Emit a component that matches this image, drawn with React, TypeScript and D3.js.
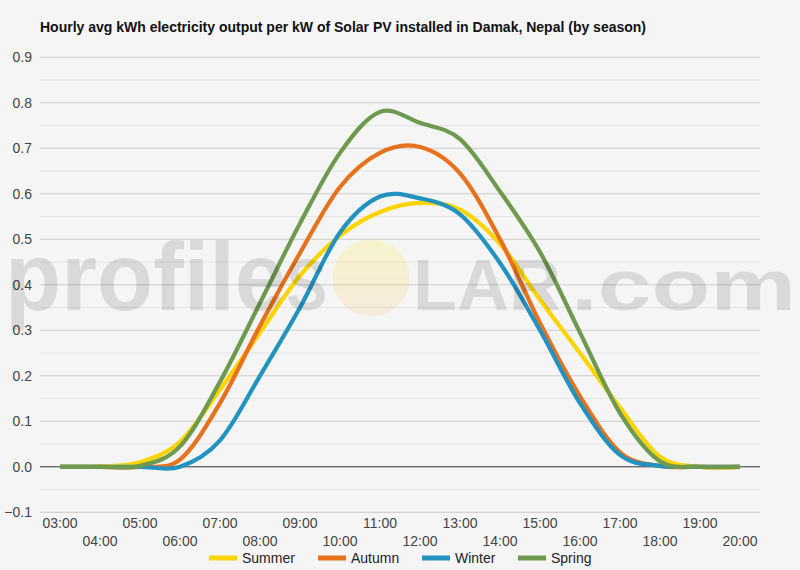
import React from "react";
import * as d3 from "d3";

const hours = ["03:00","04:00","05:00","06:00","07:00","08:00","09:00","10:00","11:00","12:00","13:00","14:00","15:00","16:00","17:00","18:00","19:00","20:00"];
const summer = [0, 0.001, 0.01, 0.055, 0.17, 0.295, 0.42, 0.508, 0.56, 0.58, 0.565, 0.49, 0.367, 0.25, 0.13, 0.022, 0.0, 0];
const autumn = [0, 0, 0, 0.016, 0.14, 0.31, 0.47, 0.615, 0.69, 0.703, 0.645, 0.5, 0.316, 0.155, 0.032, 0.002, 0, 0];
const winter = [0, 0, 0, 0, 0.058, 0.2, 0.35, 0.515, 0.594, 0.59, 0.555, 0.448, 0.3, 0.14, 0.026, 0.002, 0, 0];
const spring = [0, 0, 0.002, 0.045, 0.187, 0.36, 0.535, 0.69, 0.78, 0.756, 0.72, 0.605, 0.472, 0.295, 0.118, 0.012, 0, 0];
const seriesNames = ["Summer", "Autumn", "Winter", "Spring"];
const seriesColors = ["#FDD400", "#E8711D", "#2293C0", "#6E9A4F"];
const yTicks = [-0.1, 0, 0.1, 0.2, 0.3, 0.4, 0.5, 0.6, 0.7, 0.8, 0.9];
const title = "Hourly avg kWh electricity output per kW of Solar PV installed in Damak, Nepal (by season)";

const W = 800, H = 570;
const FONT = "Arial, 'Liberation Sans', sans-serif";

export default function App() {
  const x = d3.scaleBand<string>().domain(hours).range([40, 760]);
  const xc = (h: string) => (x(h) as number) + x.bandwidth() / 2;
  const y = d3.scaleLinear().domain([-0.1, 0.9]).range([512.3, 57.3]);
  const minor = d3.range(-0.05, 0.9, 0.1);
  const allSeries = [summer, autumn, winter, spring];
  const line = d3.line<number>()
    .x((_, i) => xc(hours[i]))
    .y((d) => y(d))
    .curve(d3.curveCatmullRom.alpha(0));
  const legendX = [209, 318, 422, 518];

  return (
    <svg width={W} height={H} style={{ position: "absolute", left: 0, top: 0 }} fontFamily={FONT}>
      <defs>
        <linearGradient id="sun" x1="0" y1="0" x2="0" y2="1">
          <stop offset="0%" stopColor="#fff200" stopOpacity={0.17} />
          <stop offset="100%" stopColor="#ff9a20" stopOpacity={0.12} />
        </linearGradient>
      </defs>
      <rect x={0} y={0} width={W} height={H} fill="#f5f5f5" />
      <text x={40} y={32} fontSize={14} fontWeight="bold" fill="#111">{title}</text>
      {minor.map((v) => (
        <line key={"m" + v} x1={40} x2={760} y1={y(v)} y2={y(v)} stroke="#e4e4e4" strokeWidth={1} />
      ))}
      {yTicks.map((v) => (
        <g key={"t" + v}>
          <line x1={40} x2={760} y1={y(v)} y2={y(v)} stroke={v === 0 ? "#333" : "#cccccc"} strokeWidth={1} />
          <text x={32} y={y(v) + 5} textAnchor="end" fontSize={14} fill="#444">{d3.format(".1f")(v)}</text>
        </g>
      ))}
      {hours.map((h, i) => (
        <text key={h} x={xc(h)} y={i % 2 === 0 ? 528 : 546} textAnchor="middle" fontSize={14} fill="#444">{h}</text>
      ))}
      {allSeries.map((s, i) => (
        <path key={seriesNames[i]} d={line(s) as string} fill="none" stroke={seriesColors[i]} strokeWidth={4.2} />
      ))}
      <g fill="#000" fillOpacity={0.115} fontWeight="bold">
        <text x={5} y={310} fontSize={96} textLength={281} lengthAdjust="spacingAndGlyphs">profile</text>
        <text x={286} y={310} fontSize={72} textLength={41} lengthAdjust="spacingAndGlyphs">S</text>
        <text x={413} y={310} fontSize={72} textLength={148} lengthAdjust="spacingAndGlyphs">LAR</text>
        <text x={571} y={310} fontSize={72} textLength={225} lengthAdjust="spacingAndGlyphs">.com</text>
      </g>
      <circle cx={371} cy={278} r={38.5} fill="url(#sun)" />
      {seriesNames.map((n, i) => (
        <g key={"l" + n}>
          <line x1={legendX[i]} x2={legendX[i] + 28} y1={558} y2={558} stroke={seriesColors[i]} strokeWidth={5} />
          <text x={legendX[i] + 33} y={563} fontSize={14} fill="#222">{n}</text>
        </g>
      ))}
    </svg>
  );
}
